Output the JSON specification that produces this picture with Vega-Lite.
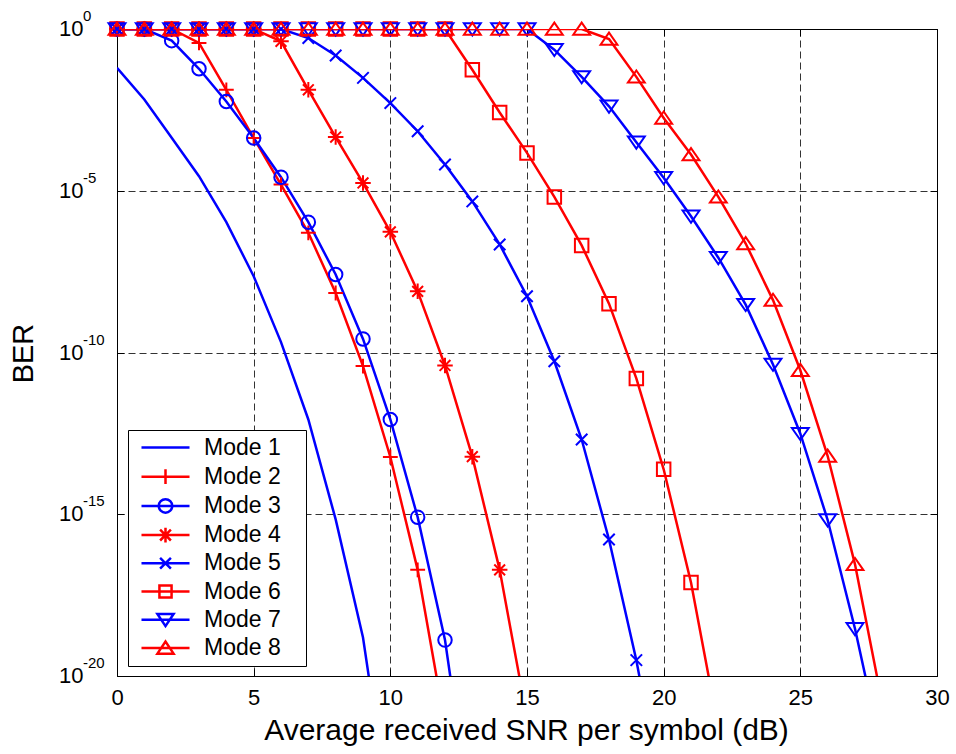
{
  "$schema": "https://vega.github.io/schema/vega-lite/v6.json",
  "autosize": {"type": "none"},
  "padding": {"left": 117, "top": 29, "right": 19, "bottom": 78},
  "width": 820,
  "height": 647,
  "background": "white",
  "config": {
    "font": "Liberation Sans",
    "view": {"stroke": "black", "strokeWidth": 1},
    "axis": {"labelFont": "Liberation Sans", "titleFont": "Liberation Sans", "labelColor": "black", "titleColor": "black"}
  },
  "datasets": {
    "ber": [
      {"m": "Mode 1", "snr": 0, "ber": 0.0631},
      {"m": "Mode 1", "snr": 1, "ber": 0.00661},
      {"m": "Mode 1", "snr": 2, "ber": 4.37e-4},
      {"m": "Mode 1", "snr": 3, "ber": 2.82e-5},
      {"m": "Mode 1", "snr": 4, "ber": 1.07e-6},
      {"m": "Mode 1", "snr": 5, "ber": 2.29e-8},
      {"m": "Mode 1", "snr": 6, "ber": 2.09e-10},
      {"m": "Mode 1", "snr": 7, "ber": 8.51e-13},
      {"m": "Mode 1", "snr": 8, "ber": 6.92e-16},
      {"m": "Mode 1", "snr": 9, "ber": 1.55e-19},
      {"m": "Mode 1", "snr": 10, "ber": 3.16e-25},

      {"m": "Mode 2", "snr": 0, "ber": 1},
      {"m": "Mode 2", "snr": 1, "ber": 1},
      {"m": "Mode 2", "snr": 2, "ber": 1},
      {"m": "Mode 2", "snr": 3, "ber": 0.372},
      {"m": "Mode 2", "snr": 4, "ber": 0.0132},
      {"m": "Mode 2", "snr": 5, "ber": 4.27e-4},
      {"m": "Mode 2", "snr": 6, "ber": 1.55e-5},
      {"m": "Mode 2", "snr": 7, "ber": 5.01e-7},
      {"m": "Mode 2", "snr": 8, "ber": 6.92e-9},
      {"m": "Mode 2", "snr": 9, "ber": 3.80e-11},
      {"m": "Mode 2", "snr": 10, "ber": 5.89e-14},
      {"m": "Mode 2", "snr": 11, "ber": 1.91e-17},
      {"m": "Mode 2", "snr": 12, "ber": 3.16e-22},

      {"m": "Mode 3", "snr": 0, "ber": 1},
      {"m": "Mode 3", "snr": 1, "ber": 1},
      {"m": "Mode 3", "snr": 2, "ber": 0.437},
      {"m": "Mode 3", "snr": 3, "ber": 0.0589},
      {"m": "Mode 3", "snr": 4, "ber": 0.00575},
      {"m": "Mode 3", "snr": 5, "ber": 4.27e-4},
      {"m": "Mode 3", "snr": 6, "ber": 2.63e-5},
      {"m": "Mode 3", "snr": 7, "ber": 1.07e-6},
      {"m": "Mode 3", "snr": 8, "ber": 2.57e-8},
      {"m": "Mode 3", "snr": 9, "ber": 2.63e-10},
      {"m": "Mode 3", "snr": 10, "ber": 8.51e-13},
      {"m": "Mode 3", "snr": 11, "ber": 8.13e-16},
      {"m": "Mode 3", "snr": 12, "ber": 1.29e-19},
      {"m": "Mode 3", "snr": 13, "ber": 2.0e-25},

      {"m": "Mode 4", "snr": 0, "ber": 1},
      {"m": "Mode 4", "snr": 1, "ber": 1},
      {"m": "Mode 4", "snr": 2, "ber": 1},
      {"m": "Mode 4", "snr": 3, "ber": 1},
      {"m": "Mode 4", "snr": 4, "ber": 1},
      {"m": "Mode 4", "snr": 5, "ber": 1},
      {"m": "Mode 4", "snr": 6, "ber": 0.417},
      {"m": "Mode 4", "snr": 7, "ber": 0.0132},
      {"m": "Mode 4", "snr": 8, "ber": 4.57e-4},
      {"m": "Mode 4", "snr": 9, "ber": 1.74e-5},
      {"m": "Mode 4", "snr": 10, "ber": 5.37e-7},
      {"m": "Mode 4", "snr": 11, "ber": 7.76e-9},
      {"m": "Mode 4", "snr": 12, "ber": 3.98e-11},
      {"m": "Mode 4", "snr": 13, "ber": 6.03e-14},
      {"m": "Mode 4", "snr": 14, "ber": 1.91e-17},
      {"m": "Mode 4", "snr": 15, "ber": 5.01e-22},

      {"m": "Mode 5", "snr": 0, "ber": 1},
      {"m": "Mode 5", "snr": 1, "ber": 1},
      {"m": "Mode 5", "snr": 2, "ber": 1},
      {"m": "Mode 5", "snr": 3, "ber": 1},
      {"m": "Mode 5", "snr": 4, "ber": 1},
      {"m": "Mode 5", "snr": 5, "ber": 1},
      {"m": "Mode 5", "snr": 6, "ber": 1},
      {"m": "Mode 5", "snr": 7, "ber": 0.525},
      {"m": "Mode 5", "snr": 8, "ber": 0.151},
      {"m": "Mode 5", "snr": 9, "ber": 0.0309},
      {"m": "Mode 5", "snr": 10, "ber": 0.00513},
      {"m": "Mode 5", "snr": 11, "ber": 6.92e-4},
      {"m": "Mode 5", "snr": 12, "ber": 6.46e-5},
      {"m": "Mode 5", "snr": 13, "ber": 4.68e-6},
      {"m": "Mode 5", "snr": 14, "ber": 2.19e-7},
      {"m": "Mode 5", "snr": 15, "ber": 5.50e-9},
      {"m": "Mode 5", "snr": 16, "ber": 5.37e-11},
      {"m": "Mode 5", "snr": 17, "ber": 2.04e-13},
      {"m": "Mode 5", "snr": 18, "ber": 1.66e-16},
      {"m": "Mode 5", "snr": 19, "ber": 3.09e-20},
      {"m": "Mode 5", "snr": 20, "ber": 1e-24},

      {"m": "Mode 6", "snr": 0, "ber": 1},
      {"m": "Mode 6", "snr": 1, "ber": 1},
      {"m": "Mode 6", "snr": 2, "ber": 1},
      {"m": "Mode 6", "snr": 3, "ber": 1},
      {"m": "Mode 6", "snr": 4, "ber": 1},
      {"m": "Mode 6", "snr": 5, "ber": 1},
      {"m": "Mode 6", "snr": 6, "ber": 1},
      {"m": "Mode 6", "snr": 7, "ber": 1},
      {"m": "Mode 6", "snr": 8, "ber": 1},
      {"m": "Mode 6", "snr": 9, "ber": 1},
      {"m": "Mode 6", "snr": 10, "ber": 1},
      {"m": "Mode 6", "snr": 11, "ber": 1},
      {"m": "Mode 6", "snr": 12, "ber": 1},
      {"m": "Mode 6", "snr": 13, "ber": 0.055},
      {"m": "Mode 6", "snr": 14, "ber": 0.00263},
      {"m": "Mode 6", "snr": 15, "ber": 1.48e-4},
      {"m": "Mode 6", "snr": 16, "ber": 6.46e-6},
      {"m": "Mode 6", "snr": 17, "ber": 2.04e-7},
      {"m": "Mode 6", "snr": 18, "ber": 3.24e-9},
      {"m": "Mode 6", "snr": 19, "ber": 1.58e-11},
      {"m": "Mode 6", "snr": 20, "ber": 2.45e-14},
      {"m": "Mode 6", "snr": 21, "ber": 7.76e-18},
      {"m": "Mode 6", "snr": 22, "ber": 2.51e-22},

      {"m": "Mode 7", "snr": 0, "ber": 1},
      {"m": "Mode 7", "snr": 1, "ber": 1},
      {"m": "Mode 7", "snr": 2, "ber": 1},
      {"m": "Mode 7", "snr": 3, "ber": 1},
      {"m": "Mode 7", "snr": 4, "ber": 1},
      {"m": "Mode 7", "snr": 5, "ber": 1},
      {"m": "Mode 7", "snr": 6, "ber": 1},
      {"m": "Mode 7", "snr": 7, "ber": 1},
      {"m": "Mode 7", "snr": 8, "ber": 1},
      {"m": "Mode 7", "snr": 9, "ber": 1},
      {"m": "Mode 7", "snr": 10, "ber": 1},
      {"m": "Mode 7", "snr": 11, "ber": 1},
      {"m": "Mode 7", "snr": 12, "ber": 1},
      {"m": "Mode 7", "snr": 13, "ber": 1},
      {"m": "Mode 7", "snr": 14, "ber": 1},
      {"m": "Mode 7", "snr": 15, "ber": 1},
      {"m": "Mode 7", "snr": 16, "ber": 0.229},
      {"m": "Mode 7", "snr": 17, "ber": 0.0331},
      {"m": "Mode 7", "snr": 18, "ber": 0.00407},
      {"m": "Mode 7", "snr": 19, "ber": 3.16e-4},
      {"m": "Mode 7", "snr": 20, "ber": 2.51e-5},
      {"m": "Mode 7", "snr": 21, "ber": 1.62e-6},
      {"m": "Mode 7", "snr": 22, "ber": 8.51e-8},
      {"m": "Mode 7", "snr": 23, "ber": 3.02e-9},
      {"m": "Mode 7", "snr": 24, "ber": 4.27e-11},
      {"m": "Mode 7", "snr": 25, "ber": 3.09e-13},
      {"m": "Mode 7", "snr": 26, "ber": 6.61e-16},
      {"m": "Mode 7", "snr": 27, "ber": 2.88e-19},
      {"m": "Mode 7", "snr": 28, "ber": 3.98e-23},

      {"m": "Mode 8", "snr": 0, "ber": 1},
      {"m": "Mode 8", "snr": 1, "ber": 1},
      {"m": "Mode 8", "snr": 2, "ber": 1},
      {"m": "Mode 8", "snr": 3, "ber": 1},
      {"m": "Mode 8", "snr": 4, "ber": 1},
      {"m": "Mode 8", "snr": 5, "ber": 1},
      {"m": "Mode 8", "snr": 6, "ber": 1},
      {"m": "Mode 8", "snr": 7, "ber": 1},
      {"m": "Mode 8", "snr": 8, "ber": 1},
      {"m": "Mode 8", "snr": 9, "ber": 1},
      {"m": "Mode 8", "snr": 10, "ber": 1},
      {"m": "Mode 8", "snr": 11, "ber": 1},
      {"m": "Mode 8", "snr": 12, "ber": 1},
      {"m": "Mode 8", "snr": 13, "ber": 1},
      {"m": "Mode 8", "snr": 14, "ber": 1},
      {"m": "Mode 8", "snr": 15, "ber": 1},
      {"m": "Mode 8", "snr": 16, "ber": 1},
      {"m": "Mode 8", "snr": 17, "ber": 1},
      {"m": "Mode 8", "snr": 18, "ber": 0.490},
      {"m": "Mode 8", "snr": 19, "ber": 0.0331},
      {"m": "Mode 8", "snr": 20, "ber": 0.00178},
      {"m": "Mode 8", "snr": 21, "ber": 1.32e-4},
      {"m": "Mode 8", "snr": 22, "ber": 6.46e-6},
      {"m": "Mode 8", "snr": 23, "ber": 2.34e-7},
      {"m": "Mode 8", "snr": 24, "ber": 4.17e-9},
      {"m": "Mode 8", "snr": 25, "ber": 2.82e-11},
      {"m": "Mode 8", "snr": 26, "ber": 6.31e-14},
      {"m": "Mode 8", "snr": 27, "ber": 2.82e-17},
      {"m": "Mode 8", "snr": 28, "ber": 1.41e-21}
    ],
    "decades": [
      {"t": 1, "e": "0"},
      {"t": 1e-5, "e": "-5"},
      {"t": 1e-10, "e": "-10"},
      {"t": 1e-15, "e": "-15"},
      {"t": 1e-20, "e": "-20"}
    ]
  },
  "resolve": {
    "scale": {"shape": "independent", "color": "independent"},
    "axis": {"x": "independent", "y": "independent"}
  },
  "layer": [
    {
      "data": {"name": "ber"},
      "mark": {"type": "line", "strokeWidth": 2.5, "clip": true},
      "encoding": {
        "x": {
          "field": "snr", "type": "quantitative",
          "scale": {"domain": [0, 30], "nice": false, "zero": false},
          "axis": {
            "orient": "bottom",
            "values": [0, 5, 10, 15, 20, 25, 30],
            "title": "Average received SNR per symbol (dB)",
            "titleFontSize": 30, "titleFontWeight": "normal",
            "titleX": 409, "titleY": 63, "titleBaseline": "alphabetic", "titleAlign": "center",
            "labelFontSize": 22, "labelPadding": 18, "labelFlush": false, "labelOverlap": false,
            "grid": true, "gridColor": "black", "gridDash": [7, 4], "gridOpacity": 0.8, "gridWidth": 1,
            "domain": false, "ticks": true, "tickSize": -7, "tickColor": "black", "tickWidth": 1
          }
        },
        "y": {
          "field": "ber", "type": "quantitative",
          "scale": {"type": "log", "domain": [1e-20, 1], "nice": false},
          "axis": {
            "orient": "left",
            "values": [1, 1e-5, 1e-10, 1e-15, 1e-20],
            "labels": false,
            "title": "BER",
            "titleFontSize": 29, "titleFontWeight": "normal",
            "titleX": -85, "titleY": 324, "titleBaseline": "alphabetic", "titleAlign": "center", "titleAngle": -90,
            "grid": true, "gridColor": "black", "gridDash": [7, 4], "gridOpacity": 0.8, "gridWidth": 1,
            "domain": false, "ticks": true, "tickSize": -7, "tickColor": "black", "tickWidth": 1
          }
        },
        "color": {
          "field": "m", "type": "nominal",
          "scale": {
            "domain": ["Mode 1", "Mode 2", "Mode 3", "Mode 4", "Mode 5", "Mode 6", "Mode 7", "Mode 8"],
            "range": ["#0000ff", "#ff0000", "#0000ff", "#ff0000", "#0000ff", "#ff0000", "#0000ff", "#ff0000"]
          },
          "legend": null
        }
      }
    },
    {
      "data": {"name": "ber"},
      "transform": [{"filter": "datum.m !== 'Mode 1' && datum.ber >= 1e-20"}],
      "mark": {"type": "point", "filled": false, "strokeWidth": 2, "size": 182, "opacity": 1},
      "encoding": {
        "x": {
          "field": "snr", "type": "quantitative",
          "axis": {
            "orient": "top", "values": [0, 5, 10, 15, 20, 25, 30],
            "labels": false, "title": null, "grid": false, "domain": false,
            "ticks": true, "tickSize": -7, "tickColor": "black", "tickWidth": 1
          }
        },
        "y": {
          "field": "ber", "type": "quantitative",
          "axis": {
            "orient": "right", "values": [1, 1e-5, 1e-10, 1e-15, 1e-20],
            "labels": false, "title": null, "grid": false, "domain": false,
            "ticks": true, "tickSize": -7, "tickColor": "black", "tickWidth": 1
          }
        },
        "color": {
          "field": "m", "type": "nominal",
          "scale": {
            "domain": ["Mode 1", "Mode 2", "Mode 3", "Mode 4", "Mode 5", "Mode 6", "Mode 7", "Mode 8"],
            "range": ["#0000ff", "#ff0000", "#0000ff", "#ff0000", "#0000ff", "#ff0000", "#0000ff", "#ff0000"]
          },
          "legend": null
        },
        "shape": {
          "field": "m", "type": "nominal",
          "scale": {
            "domain": ["Mode 2", "Mode 3", "Mode 4", "Mode 5", "Mode 6", "Mode 7", "Mode 8"],
            "range": [
              "M-1.1,0L1.1,0M0,-1.1L0,1.1",
              "circle",
              "M-1.15,0L1.15,0M0,-1.15L0,1.15M-0.8,-0.8L0.8,0.8M-0.8,0.8L0.8,-0.8",
              "M-0.85,-0.85L0.85,0.85M-0.85,0.85L0.85,-0.85",
              "M-1,-1L1,-1L1,1L-1,1Z",
              "M-1.25,-0.85L1.25,-0.85L0,0.95Z",
              "M-1.25,0.85L1.25,0.85L0,-0.95Z"
            ]
          },
          "legend": null
        }
      }
    },
    {
      "data": {"name": "ber"},
      "transform": [{"filter": "datum.snr === 0"}],
      "mark": {"type": "point", "filled": false, "opacity": 0},
      "encoding": {
        "x": {"field": "snr", "type": "quantitative", "axis": null},
        "y": {"field": "ber", "type": "quantitative", "axis": null},
        "color": {
          "field": "m", "type": "nominal",
          "scale": {
            "domain": ["Mode 1", "Mode 2", "Mode 3", "Mode 4", "Mode 5", "Mode 6", "Mode 7", "Mode 8"],
            "range": ["#0000ff", "#ff0000", "#0000ff", "#ff0000", "#0000ff", "#ff0000", "#0000ff", "#ff0000"]
          },
          "legend": {
            "title": null,
            "orient": "none", "legendX": 11, "legendY": 401,
            "padding": 6, "rowPadding": 4.2,
            "strokeColor": "black", "fillColor": "white", "cornerRadius": 0,
            "symbolSize": 182, "symbolStrokeWidth": 2.5, "symbolOffset": 20,
            "labelFontSize": 23, "labelOffset": 27, "labelColor": "black",
            "labelExpr": "datum.label + '\u00a0\u00a0\u00a0\u200b'"
          }
        },
        "shape": {
          "field": "m", "type": "nominal",
          "scale": {
            "domain": ["Mode 1", "Mode 2", "Mode 3", "Mode 4", "Mode 5", "Mode 6", "Mode 7", "Mode 8"],
            "range": [
              "M-3.56,0L3.56,0",
              "M-3.56,0L3.56,0M0,-1.1L0,1.1",
              "M-3.56,0L3.56,0M1,0A1,1,0,1,1,-1,0A1,1,0,1,1,1,0",
              "M-3.56,0L3.56,0M0,-1.1L0,1.1M-0.8,-0.8L0.8,0.8M-0.8,0.8L0.8,-0.8",
              "M-3.56,0L3.56,0M-0.8,-0.8L0.8,0.8M-0.8,0.8L0.8,-0.8",
              "M-3.56,0L3.56,0M-0.9,-0.9L0.9,-0.9L0.9,0.9L-0.9,0.9Z",
              "M-3.56,0L3.56,0M-1.2,-0.85L1.2,-0.85L0,0.95Z",
              "M-3.56,0L3.56,0M-1.2,0.85L1.2,0.85L0,-0.95Z"
            ]
          },
          "legend": {
            "title": null,
            "orient": "none", "legendX": 11, "legendY": 401,
            "padding": 6, "rowPadding": 4.2,
            "strokeColor": "black", "fillColor": "white", "cornerRadius": 0,
            "symbolSize": 182, "symbolStrokeWidth": 2.5, "symbolOffset": 20,
            "labelFontSize": 23, "labelOffset": 27, "labelColor": "black",
            "labelExpr": "datum.label + '\u00a0\u00a0\u00a0\u200b'"
          }
        }
      }
    },
    {
      "data": {"name": "decades"},
      "mark": {"type": "text", "text": "10", "align": "left", "baseline": "middle", "dx": -58, "fontSize": 22, "color": "black"},
      "encoding": {
        "x": {"datum": 0, "type": "quantitative", "axis": null},
        "y": {"field": "t", "type": "quantitative", "axis": null}
      }
    },
    {
      "data": {"name": "decades"},
      "mark": {"type": "text", "align": "left", "baseline": "middle", "dx": -34, "dy": -13, "fontSize": 15, "color": "black"},
      "encoding": {
        "x": {"datum": 0, "type": "quantitative", "axis": null},
        "y": {"field": "t", "type": "quantitative", "axis": null},
        "text": {"field": "e", "type": "nominal"}
      }
    }
  ]
}
